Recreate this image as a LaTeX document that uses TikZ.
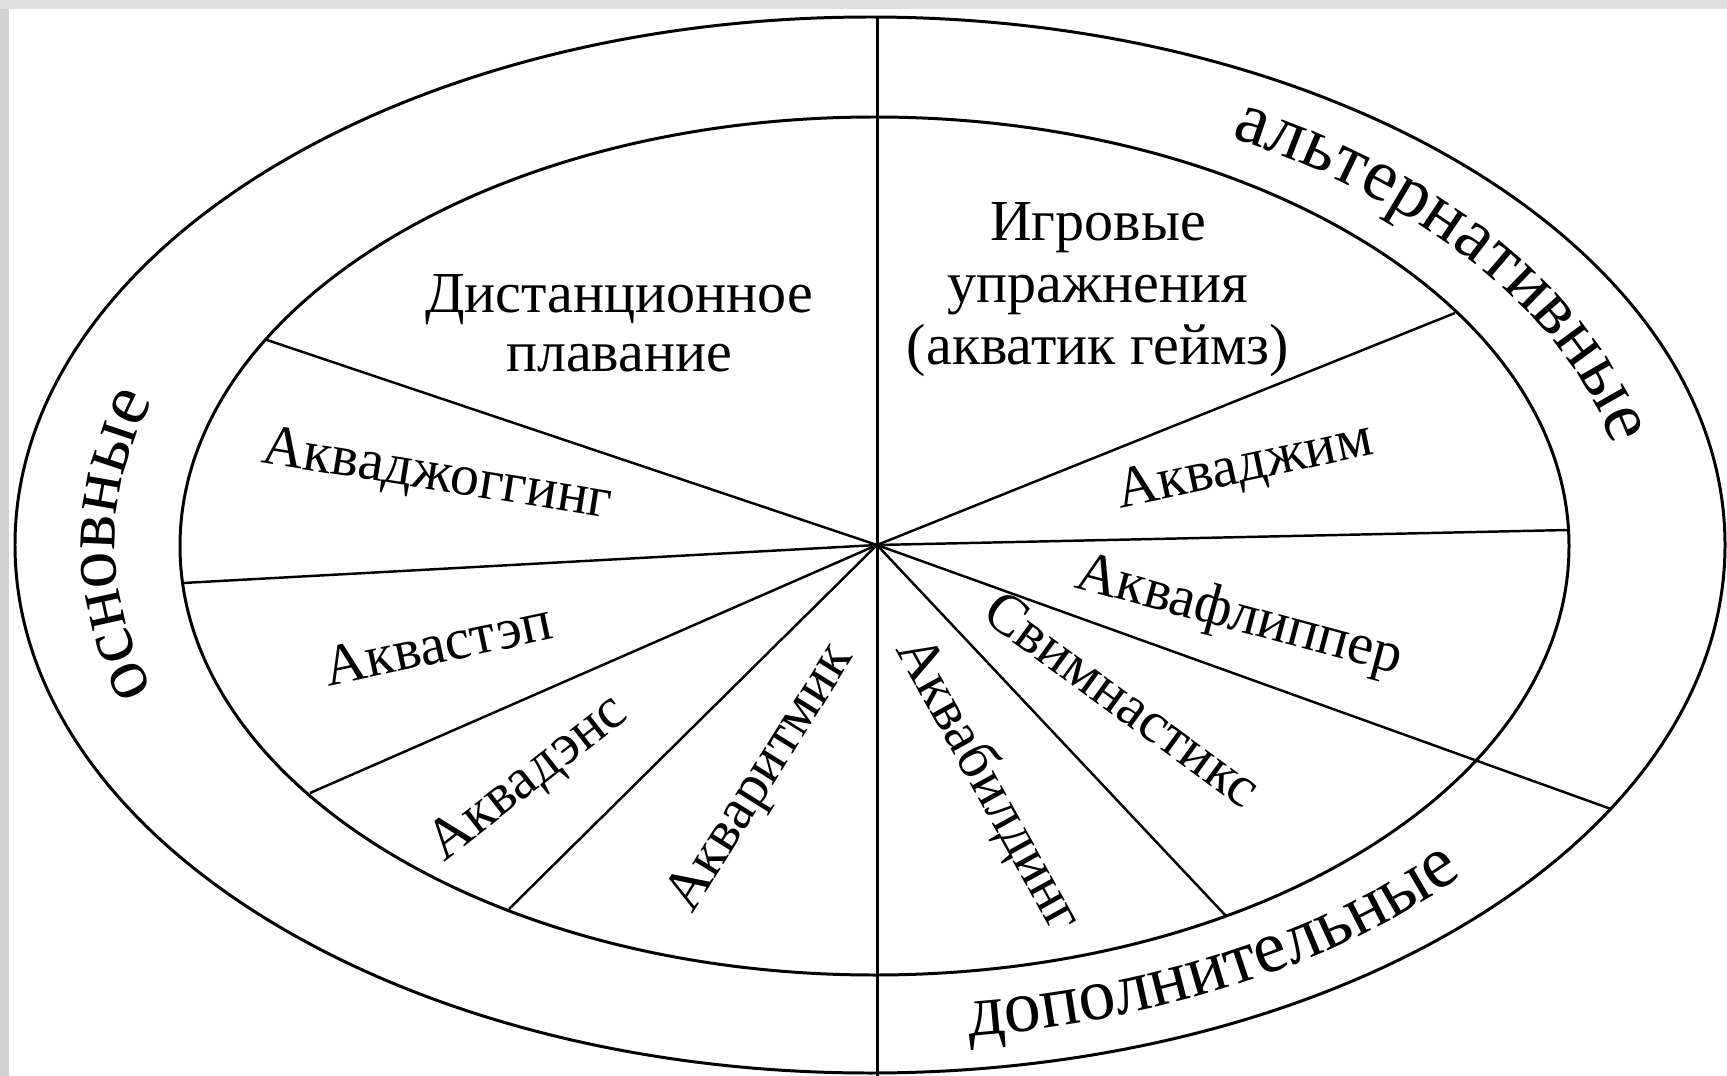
\documentclass[tikz,border=0pt]{standalone}
\usepackage{fontspec}
\setmainfont{Liberation Serif}
\usetikzlibrary{decorations.text}
\newcommand\catfont{\fontsize{21pt}{25pt}\selectfont}
\begin{document}
\begin{tikzpicture}[x=0.01cm, y=-0.01cm,
  ring/.style={line width=0.85pt},
  ray/.style={line width=0.7pt},
  lbl/.style={font=\fontsize{16.5pt}{16.8pt}\selectfont, inner sep=0pt, align=center},
  lblwide/.style={font=\fontsize{16.5pt}{17.6pt}\selectfont, inner sep=0pt, align=center}
]
\useasboundingbox (0,0) rectangle (1727,1076);
\fill[white] (0,0) rectangle (1727,1076);
\fill[gray!35] (0,0) rectangle (9,1076);
\fill[gray!25] (0,0) rectangle (1727,9);

% rings
\draw[ring] (870,545) ellipse [x radius=855, y radius=528];
\draw[ring] (874.5,546) ellipse [x radius=694.5, y radius=429];

% axis
\coordinate (c) at (877,545);
\coordinate (vtop) at (877,17);
\coordinate (vbot) at (877,1076);
\draw[ring] (vtop) -- (vbot);

% rays
\coordinate (e1) at (267,340);
\coordinate (e2) at (183,583);
\coordinate (e3) at (310,793);
\coordinate (e4) at (509,909);
\coordinate (e5) at (1226,916);
\coordinate (e6) at (1611,809);
\coordinate (e7) at (1568,530);
\coordinate (e8) at (1455,313);
\foreach \e in {e1,e2,e3,e4,e5,e6,e7,e8} \draw[ray] (c) -- (\e);

% inner labels
\node[lbl] (dist) at (619,323) {Дистанционное\\плавание};
\node[lblwide] (igr) at (1098,290) {Игровые\\упражнения\\(акватик геймз)};
\node[lbl, rotate=-9] (jog) at (437,477) {Акваджоггинг};
\node[lbl, rotate=12] (stp) at (438,644) {Аквастэп};
\node[lbl, rotate=38] (dns) at (529,779) {Аквадэнс};
\node[lbl, rotate=58] (rtm) at (762,779) {Акваритмик};
\node[lbl, rotate=-61] (bld) at (988,785) {Аквабилдинг};
\node[lbl, rotate=-36] (swm) at (1123,699) {Свимнастикс};
\node[lbl, rotate=-15] (flp) at (1239,617) {Аквафлиппер};
\node[lbl, rotate=12] (gym) at (1245,468) {Акваджим};

% category labels along the ring
\path[decorate, decoration={text along path, text align=center, text={|\catfont|альтернативные}}]
  ([shift={(-68:758 and 462)}]873,545) arc[start angle=-68, end angle=-3, x radius=758, y radius=462];
\path[decorate, decoration={text along path, text align=center, text={|\catfont|дополнительные}}]
  ([shift={(98:792 and 495)}]873,545) arc[start angle=98, end angle=22, x radius=792, y radius=495];
\path[decorate, decoration={text along path, text align=center, text={|\catfont|основные}}]
  ([shift={(-210:758 and 462)}]873,545) arc[start angle=-210, end angle=-150, x radius=758, y radius=462];
\end{tikzpicture}
\end{document}
